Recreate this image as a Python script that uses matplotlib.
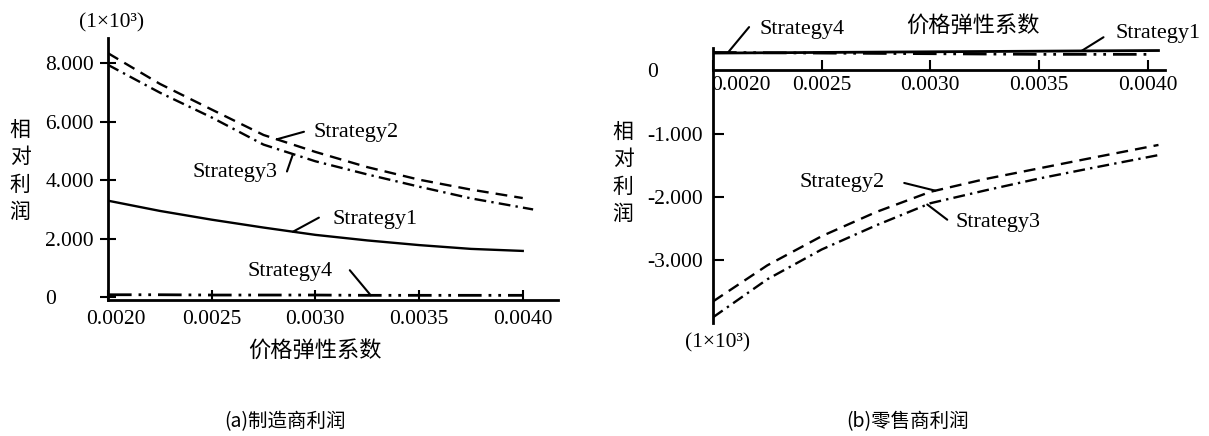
import matplotlib
matplotlib.use("Agg")
import matplotlib.pyplot as plt
import numpy as np
from matplotlib.transforms import ScaledTranslation

# ---- data -------------------------------------------------------------
elasticity = [0.0020, 0.00225, 0.0025, 0.00275, 0.0030, 0.00325, 0.0035, 0.00375, 0.0040]
elasticity_ext = [0.0020, 0.00225, 0.0025, 0.00275, 0.0030, 0.00325, 0.0035, 0.00375, 0.00405]

# (a) manufacturer relative profit, units of 1e3
mfr_s1 = [3.30, 2.95, 2.65, 2.38, 2.13, 1.94, 1.78, 1.65, 1.58]
mfr_s2 = [8.35, 7.30, 6.42, 5.55, 4.97, 4.45, 4.02, 3.68, 3.39]
mfr_s3 = [7.95, 7.00, 6.15, 5.22, 4.65, 4.20, 3.78, 3.38, 3.00]
mfr_s4 = [0.08, 0.08, 0.07, 0.07, 0.07, 0.06, 0.06, 0.06, 0.06]

# (b) retailer relative profit, units of 1e3
ret_s1 = [0.27, 0.275, 0.28, 0.285, 0.29, 0.295, 0.30, 0.305, 0.31]
ret_s2 = [-3.65, -3.08, -2.62, -2.24, -1.92, -1.72, -1.55, -1.38, -1.18]
ret_s3 = [-3.90, -3.30, -2.83, -2.45, -2.10, -1.90, -1.71, -1.54, -1.34]
ret_s4 = [0.28, 0.275, 0.27, 0.265, 0.26, 0.255, 0.25, 0.25, 0.25]

x_ticks = [0.0020, 0.0025, 0.0030, 0.0035, 0.0040]
x_ticklabels = ["0.0020", "0.0025", "0.0030", "0.0035", "0.0040"]
mfr_yticks = [0, 2, 4, 6, 8]
mfr_yticklabels = ["0", "2.000", "4.000", "6.000", "8.000"]
ret_yticks = [-3, -2, -1, 0]
ret_yticklabels = ["-3.000", "-2.000", "-1.000", "0"]

xlabel = "价格弹性系数"
ylabel = "相\n对\n利\n润"
unit = "(1×10³)"
captions = ["(a)制造商利润", "(b)零售商利润"]

# ---- styles -----------------------------------------------------------
plt.rcParams["font.family"] = ["Liberation Serif", "Noto Sans CJK SC"]
CJK = "Noto Sans CJK SC"
LW = 1.7
TICK_FS = 15.5
NOTE_FS = 16
STYLES = {
    "Strategy1": dict(linestyle="-"),
    "Strategy2": dict(linestyle=(0, (5, 3))),
    "Strategy3": dict(linestyle=(0, (5, 2.2, 1, 2.2))),
    "Strategy4": dict(linestyle=(0, (8.5, 2.5, 1, 2.5, 1, 2.5))),
}

fig = plt.figure(figsize=(12.09, 4.36), dpi=100)
W, H = 1209, 436


def add_axes_px(left, top, right, bottom):
    return fig.add_axes([left / W, 1 - bottom / H, (right - left) / W, (bottom - top) / H])


def leader(ax, xs, ys, x_on_line, start):
    ax.annotate("", xy=(x_on_line, np.interp(x_on_line, xs, ys)), xytext=start,
                arrowprops=dict(arrowstyle="-", lw=1.5, color="black",
                                shrinkA=0, shrinkB=0))


def style_common(ax):
    for s in ("top", "right"):
        ax.spines[s].set_visible(False)
    for s in ("left", "bottom"):
        ax.spines[s].set_linewidth(2.0)
    ax.set_xticks(x_ticks)
    ax.set_xticklabels(x_ticklabels, fontsize=TICK_FS)


# ---- (a) manufacturer -------------------------------------------------
ax1 = add_axes_px(108, 38, 558, 300)
ax1.plot(elasticity, mfr_s1, color="black", lw=LW, **STYLES["Strategy1"])
ax1.plot(elasticity, mfr_s2, color="black", lw=LW, **STYLES["Strategy2"])
ax1.plot(elasticity_ext, mfr_s3, color="black", lw=LW, **STYLES["Strategy3"])
ax1.plot(elasticity, mfr_s4, color="black", lw=LW + 0.3, **STYLES["Strategy4"])
ax1.set_xlim(0.0020, 0.00417)
ax1.set_ylim(-0.1, 8.87)
style_common(ax1)
ax1.set_yticks(mfr_yticks)
ax1.set_yticklabels(mfr_yticklabels, fontsize=TICK_FS, ha="left")
ax1.tick_params(axis="y", direction="inout", length=12, width=1.5, pad=39)
ax1.tick_params(axis="x", direction="in", length=7, width=1.5, pad=7)
lbl = ax1.get_xticklabels()[0]
lbl.set_transform(lbl.get_transform() + ScaledTranslation(8 / 100, 0, fig.dpi_scale_trans))

ax1.text(0.003195, 5.62, "Strategy2", fontsize=NOTE_FS, ha="center", va="center")
leader(ax1, elasticity, mfr_s2, 0.002814, (0.002945, 5.66))
ax1.text(0.002612, 4.25, "Strategy3", fontsize=NOTE_FS, ha="center", va="center")
leader(ax1, elasticity_ext, mfr_s3, 0.002892, (0.002863, 4.3))
ax1.text(0.003287, 2.64, "Strategy1", fontsize=NOTE_FS, ha="center", va="center")
leader(ax1, elasticity, mfr_s1, 0.002892, (0.003017, 2.72))
ax1.text(0.002877, 0.86, "Strategy4", fontsize=NOTE_FS, ha="center", va="center")
leader(ax1, elasticity, mfr_s4, 0.003267, (0.003166, 0.92))

fig.text(112 / W, 1 - 23 / H, unit, fontsize=TICK_FS, ha="center", va="center")
fig.text(315 / W, 1 - 350 / H, xlabel, fontsize=16, family=CJK, ha="center", va="center")
fig.text(20 / W, 1 - 171 / H, ylabel, fontsize=15, family=CJK, ha="center", va="center",
         linespacing=1.3)

# ---- (b) retailer -----------------------------------------------------
ax2 = add_axes_px(713, 48, 1165, 323)
# the x axis runs along y = 0; place the spine before configuring ticks
ax2.spines["bottom"].set_position(("data", 0))
ax2.plot(elasticity_ext, ret_s1, color="black", lw=LW + 0.3, **STYLES["Strategy1"])
ax2.plot(elasticity, ret_s4, color="black", lw=LW + 0.3, **STYLES["Strategy4"])
ax2.plot(elasticity_ext, ret_s2, color="black", lw=LW, **STYLES["Strategy2"])
ax2.plot(elasticity_ext, ret_s3, color="black", lw=LW, **STYLES["Strategy3"])
ax2.set_xlim(0.0020, 0.00408)
ax2.set_ylim(-3.99, 0.35)
style_common(ax2)
ax2.set_yticks(ret_yticks)
ax2.set_yticklabels(ret_yticklabels, fontsize=TICK_FS, ha="left")
ax2.tick_params(axis="y", direction="in", length=8, width=1.5, pad=47.5)
ax2.tick_params(axis="x", direction="in", length=7, width=1.5, pad=4)
ax2.yaxis.get_major_ticks()[-1].tick1line.set_visible(False)
lbl = ax2.get_xticklabels()[0]
lbl.set_transform(lbl.get_transform() + ScaledTranslation(28 / 100, 0, fig.dpi_scale_trans))

ax2.text(0.00241, 0.646, "Strategy4", fontsize=NOTE_FS, ha="center", va="center")
leader(ax2, elasticity, ret_s4, 0.002069, (0.002166, 0.68))
ax2.text(0.004046, 0.58, "Strategy1", fontsize=NOTE_FS, ha="center", va="center")
leader(ax2, elasticity_ext, ret_s1, 0.003696, (0.003797, 0.52))
ax2.text(0.002594, -1.78, "Strategy2", fontsize=NOTE_FS, ha="center", va="center")
leader(ax2, elasticity_ext, ret_s2, 0.003023, (0.00288, -1.78))
ax2.text(0.003313, -2.41, "Strategy3", fontsize=NOTE_FS, ha="center", va="center")
leader(ax2, elasticity_ext, ret_s3, 0.002986, (0.003078, -2.36))

fig.text(718 / W, 1 - 343 / H, unit, fontsize=TICK_FS, ha="center", va="center")
fig.text(973 / W, 1 - 25 / H, xlabel, fontsize=16, family=CJK, ha="center", va="center")
fig.text(623 / W, 1 - 173 / H, ylabel, fontsize=15, family=CJK, ha="center", va="center",
         linespacing=1.3)

# ---- captions ---------------------------------------------------------
fig.text(285 / W, 1 - 422 / H, captions[0], fontsize=14, family=CJK, ha="center", va="center")
fig.text(908 / W, 1 - 422 / H, captions[1], fontsize=14, family=CJK, ha="center", va="center")

fig.savefig("out.png", dpi=100, facecolor="white")
